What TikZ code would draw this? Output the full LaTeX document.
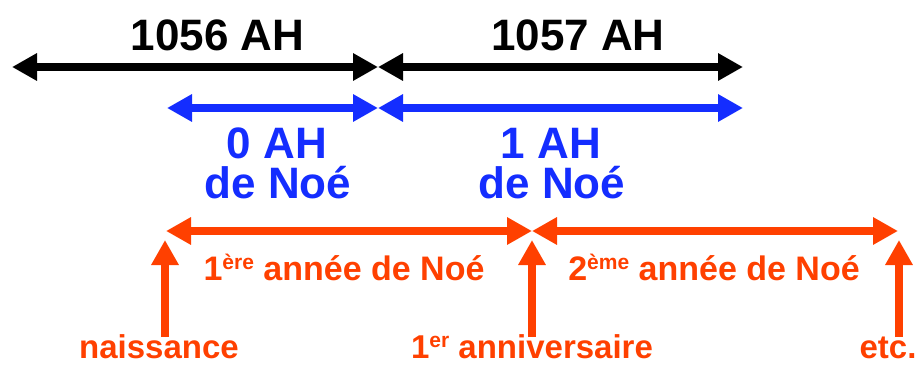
\documentclass[tikz,border=0pt]{standalone}
\usepackage{fontspec}
\setmainfont{Liberation Sans}
\usetikzlibrary{arrows.meta}
\definecolor{tblue}{RGB}{20,45,255}
\definecolor{torange}{RGB}{255,64,0}
\newcommand{\supx}[1]{\raisebox{11pt}{\fontsize{21}{21}\selectfont #1}}
\begin{document}
\begin{tikzpicture}[x=1pt,y=-1pt,
  tip/.tip={Triangle[length=25pt,width=26pt]},
  span/.style={line width=8pt,tip-tip},
  uparrow/.style={line width=8pt,-tip,draw=torange,fill=torange},
  big/.style={font=\fontsize{44}{48}\selectfont\bfseries,anchor=base,inner sep=0pt},
  lab/.style={font=\fontsize{34}{36}\selectfont\bfseries,anchor=base,inner sep=0pt,text=torange},
  small/.style={font=\fontsize{33}{36}\selectfont\bfseries,anchor=base,inner sep=0pt,text=torange}]
\useasboundingbox (0,0) rectangle (921,367);
% coordinates
\coordinate (k0) at (12,67);
\coordinate (k1) at (378,67);
\coordinate (k2) at (743,67);
\coordinate (b0) at (167,108);
\coordinate (b1) at (378,108);
\coordinate (b2) at (743,108);
\coordinate (o0) at (166,231);
\coordinate (o1) at (532,231);
\coordinate (o2) at (898,231);
\coordinate (v0b) at (165,337);
\coordinate (v0t) at (165,240);
\coordinate (v1b) at (532,337);
\coordinate (v1t) at (532,240);
\coordinate (v2b) at (899,337);
\coordinate (v2t) at (899,240);
% black
\draw[span,draw=black,fill=black] (k0) -- (k1);
\draw[span,draw=black,fill=black] (k1) -- (k2);
\node[big] (t1056) at (217.5,50) {1056 AH};
\node[big] (t1057) at (578,50) {1057 AH};
% blue
\draw[span,draw=tblue,fill=tblue] (b0) -- (b1);
\draw[span,draw=tblue,fill=tblue] (b1) -- (b2);
\node[big,text=tblue] (z1) at (277,158) {0 AH};
\node[big,text=tblue] (z2) at (278,198) {de Noé};
\node[big,text=tblue] (u1) at (551,158) {1 AH};
\node[big,text=tblue] (u2) at (552,198) {de Noé};
% orange
\draw[span,draw=torange,fill=torange] (o0) -- (o1);
\draw[span,draw=torange,fill=torange] (o1) -- (o2);
\node[lab] (y1) at (344,280) {1\supx{ère} année de Noé};
\node[lab] (y2) at (714,280) {2\supx{ème} année de Noé};
\draw[uparrow] (v0b) -- (v0t);
\draw[uparrow] (v1b) -- (v1t);
\draw[uparrow] (v2b) -- (v2t);
\node[small] (nai) at (159,358) {naissance};
\node[small] (ann) at (532,358) {1\supx{er} anniversaire};
\node[small] (etc) at (888,358) {etc.};
\end{tikzpicture}
\end{document}
